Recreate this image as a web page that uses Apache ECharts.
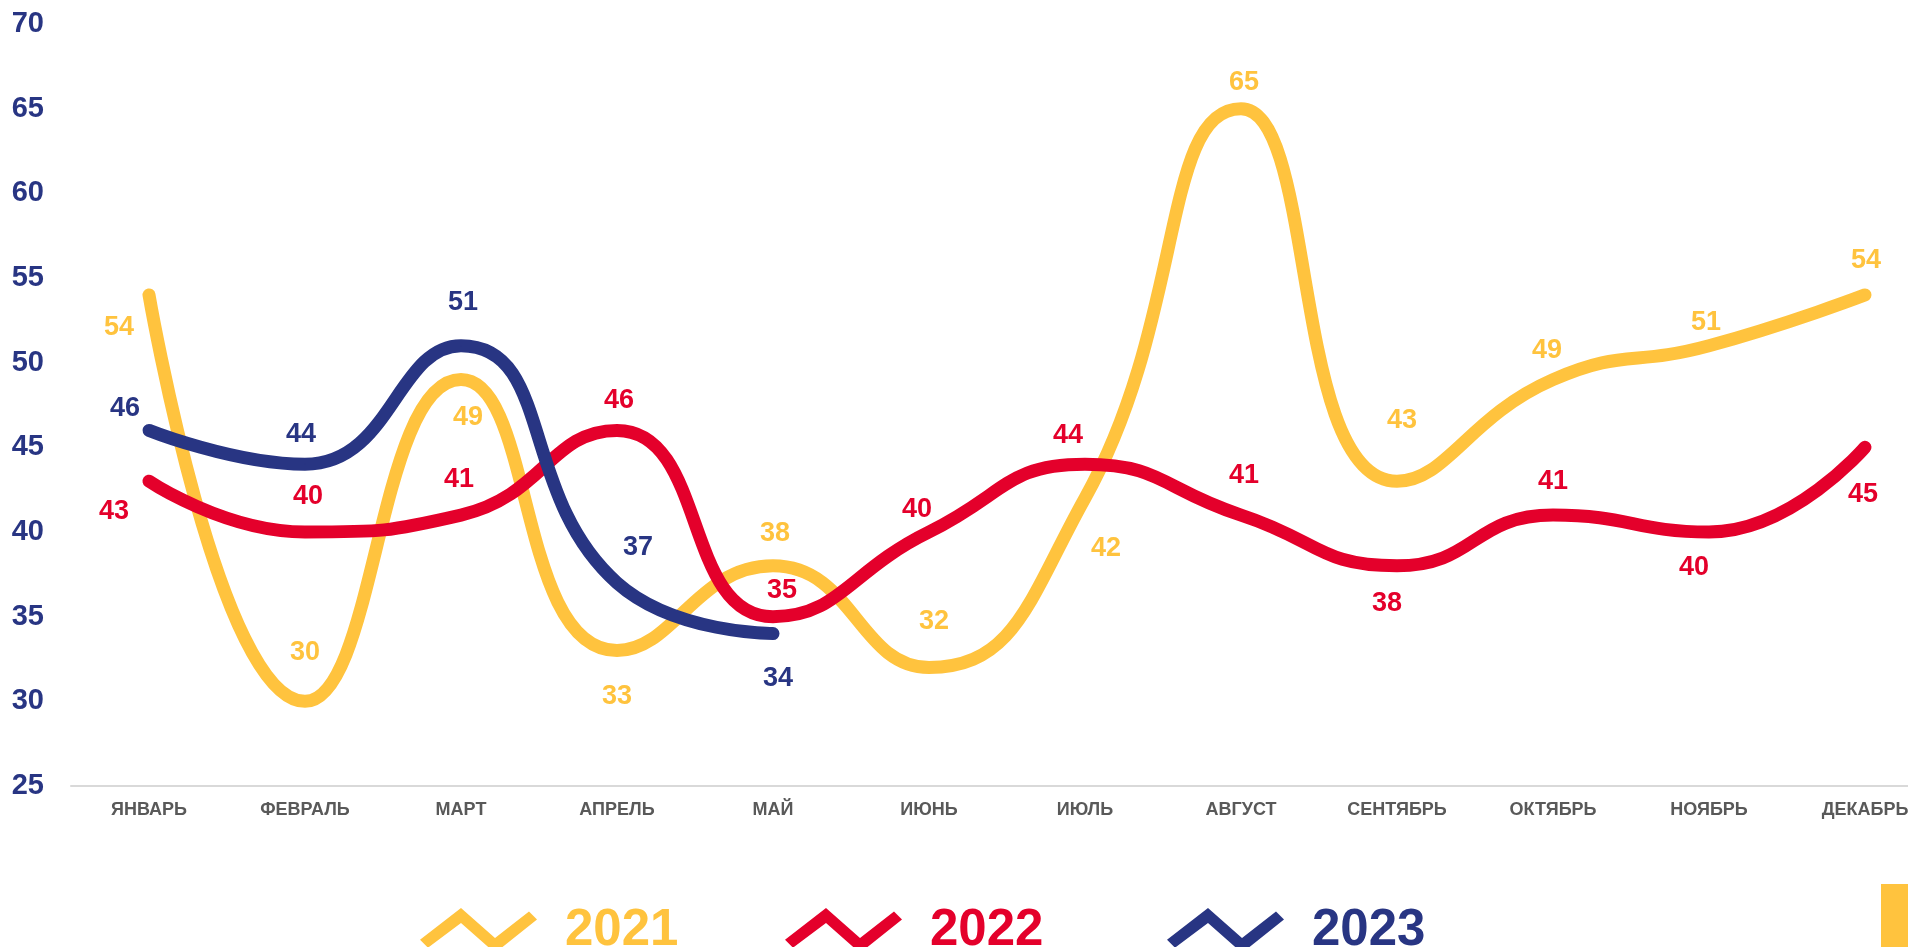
<!DOCTYPE html>
<html>
<head>
<meta charset="utf-8">
<script src="https://cdn.jsdelivr.net/npm/echarts@6/dist/echarts.min.js"></script>
<style>
html,body{margin:0;padding:0;background:#fff;}
#chart{width:1908px;height:947px;}
</style>
</head>
<body>
<div id="chart"></div>
<script>
// ---- data ----
const months = ['ЯНВАРЬ','ФЕВРАЛЬ','МАРТ','АПРЕЛЬ','МАЙ','ИЮНЬ','ИЮЛЬ','АВГУСТ','СЕНТЯБРЬ','ОКТЯБРЬ','НОЯБРЬ','ДЕКАБРЬ'];
const seriesNames = ['2021','2022','2023'];
const values2021 = [54,30,49,33,38,32,42,65,43,49,51,54];
const values2022 = [43,40,41,46,35,40,44,41,38,41,40,45];
const values2023 = [46,44,51,37,34];
const yTicks = {min:25, max:70, interval:5};

// ---- layout / style (label offsets in px relative to each point) ----
const colors = ['#FFC33E','#E4002B','#283583'];
const labelOffsets2021 = [[-30,33],[0,-49],[7,38],[0,46],[2,-32],[5,-46],[21,50],[3,-26],[5,-61],[-6,-29],[-3,-23],[1,-34]];
const labelOffsets2022 = [[-35,30],[3,-35],[-2,-36],[2,-30],[9,-26],[-12,-22],[-17,-29],[3,-40],[-10,38],[0,-34],[-15,36],[-2,47]];
const labelOffsets2023 = [[-24,-22],[-4,-30],[2,-43],[21,-35],[5,45]];
const legendLefts = [415, 780, 1162];

const legendIcon = 'path://M0 31.8 L41 0 L75 30 L109 3.5 L117 11.5 L75 45 L41 15 L8 39.7 Z';

function mk(name, values, offsets, color){
  return {
    name: name,
    type: 'line',
    data: values,
    smooth: 0.5,
    symbol: 'circle',
    symbolSize: 1,
    showSymbol: true,
    itemStyle: {color: color},
    lineStyle: {width: 13, color: color, cap: 'round', join: 'round'},
    emphasis: {disabled: true},
    label: {
      show: true,
      position: 'inside',
      color: color,
      fontFamily: "'Liberation Sans', Arial, sans-serif",
      fontWeight: 'bold',
      fontSize: 27
    },
    labelLayout: function(p){
      const o = offsets[p.dataIndex] || [0,0];
      return {dx: o[0], dy: o[1], hideOverlap: false};
    }
  };
}

const legends = seriesNames.map((n,i)=>({
  left: legendLefts[i], top: 900,
  itemWidth: 117, itemHeight: 45,
  icon: legendIcon,
  selectedMode: false,
  textStyle: {
    color: colors[i],
    fontFamily: "'Liberation Sans', Arial, sans-serif",
    fontWeight: 'bold', fontSize: 51, lineHeight: 45,
    padding: [0,0,0,23]
  },
  data: [{name: n, itemStyle: {color: colors[i], opacity: 1}}]
}));

const chart = echarts.init(document.getElementById('chart'), null, {renderer:'canvas'});
chart.setOption({
  animation: false,
  backgroundColor: '#fff',
  grid: {left: 71, top: 24, width: 1872, height: 762, outerBoundsMode: 'none', containLabel: false},
  xAxis: {
    type: 'category',
    data: months,
    boundaryGap: true,
    axisLine: {show: true, lineStyle: {color: '#D9D9D9', width: 2}},
    axisTick: {show: false},
    axisLabel: {
      color: '#595959', fontWeight: 'bold', fontSize: 18,
      fontFamily: "'Liberation Sans', Arial, sans-serif",
      margin: 15, interval: 0
    },
    splitLine: {show: false}
  },
  yAxis: {
    type: 'value',
    min: yTicks.min, max: yTicks.max, interval: yTicks.interval,
    axisLine: {show: false},
    axisTick: {show: false},
    splitLine: {show: false},
    axisLabel: {
      color: '#283583', fontWeight: 'bold', fontSize: 29,
      fontFamily: "'Liberation Sans', Arial, sans-serif",
      margin: 27
    }
  },
  legend: legends,
  graphic: [{
    type: 'rect', right: 0, bottom: 0,
    shape: {width: 27, height: 63},
    style: {fill: '#FFC33E'}
  }],
  series: [
    mk(seriesNames[0], values2021, labelOffsets2021, colors[0]),
    mk(seriesNames[1], values2022, labelOffsets2022, colors[1]),
    mk(seriesNames[2], values2023, labelOffsets2023, colors[2])
  ]
});
</script>
</body>
</html>
